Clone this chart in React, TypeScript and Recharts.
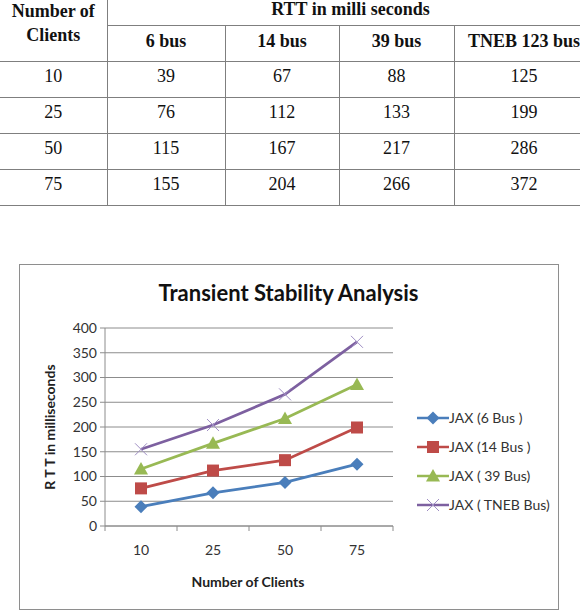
import React from 'react';
import { LineChart, Line, XAxis, YAxis, CartesianGrid, Legend } from 'recharts';

// Client counts (categories) and round-trip times in ms per bus system
const clients = ['10', '25', '50', '75'];
const bus6 = [39, 67, 88, 125];
const bus14 = [76, 112, 133, 199];
const bus39 = [115, 167, 217, 286];
const busTneb = [155, 204, 266, 372];

const tableHeaders = ['6 bus', '14 bus', '39 bus', 'TNEB 123 bus'];
const seriesNames = ['JAX (6 Bus )', 'JAX (14 Bus )', 'JAX ( 39 Bus)', 'JAX ( TNEB Bus)'];
const seriesKeys = ['b6', 'b14', 'b39', 'tneb'];
const seriesColors = ['#4A7EBB', '#BE4B48', '#98B954', '#7D60A0'];
const markerKinds = ['diamond', 'square', 'triangle', 'cross'];
const yTicks = [0, 50, 100, 150, 200, 250, 300, 350, 400];

const seriesValues = [bus6, bus14, bus39, busTneb];
// The RTT table lists the series row by row
const tableRows = seriesValues;

// Category i sits in the middle of band [i, i+1] of a numeric axis,
// so tick marks can go on the band edges like a classic category axis.
const chartData = clients.map((c, i) => ({
  pos: i + 0.5,
  client: c,
  b6: bus6[i],
  b14: bus14[i],
  b39: bus39[i],
  tneb: busTneb[i],
}));
const xTicks = [0, 0.5, 1, 1.5, 2, 2.5, 3, 3.5, 4];

const GRID = '#8c8c8c';
const CHART_FONT = 'Lato, "Open Sans", sans-serif';

function Marker({ kind, cx, cy, color }: { kind: string; cx: number; cy: number; color: string }) {
  if (kind === 'diamond') {
    const r = 6.5;
    return <polygon points={`${cx},${cy - r} ${cx + r},${cy} ${cx},${cy + r} ${cx - r},${cy}`} fill={color} />;
  }
  if (kind === 'square') {
    const r = 6;
    return <rect x={cx - r} y={cy - r} width={r * 2} height={r * 2} fill={color} />;
  }
  if (kind === 'triangle') {
    return <polygon points={`${cx},${cy - 7} ${cx + 7},${cy + 5.5} ${cx - 7},${cy + 5.5}`} fill={color} />;
  }
  const r = 6;
  return (
    <g stroke="#A08FC4" strokeWidth={1}>
      <line x1={cx - r} y1={cy - r} x2={cx + r} y2={cy + r} />
      <line x1={cx - r} y1={cy + r} x2={cx + r} y2={cy - r} />
    </g>
  );
}

function XTick(props: any) {
  const { x, y, payload } = props;
  const v = payload.value as number;
  if (Number.isInteger(v)) {
    return <line x1={x} y1={y} x2={x} y2={y + 5} stroke={GRID} />;
  }
  const label = clients[Math.floor(v)];
  return (
    <text x={x} y={y + 29} textAnchor="middle" fill="#333" fontSize={14} fontFamily={CHART_FONT}>
      {label}
    </text>
  );
}

function LegendContent(props: any) {
  const items = [...(props.payload || [])].sort(
    (a: any, b: any) => seriesKeys.indexOf(a.dataKey) - seriesKeys.indexOf(b.dataKey)
  );
  return (
    <div style={{ fontFamily: CHART_FONT, fontSize: 14, color: '#333' }}>
      {items.map((entry: any) => {
        const idx = seriesKeys.indexOf(entry.dataKey);
        return (
          <div key={entry.dataKey} style={{ display: 'flex', alignItems: 'center', height: 29 }}>
            <svg width={32} height={16} style={{ display: 'block' }}>
              <line x1={0} y1={8} x2={32} y2={8} stroke={entry.color} strokeWidth={2.5} />
              <Marker kind={markerKinds[idx]} cx={16} cy={8} color={entry.color} />
            </svg>
            <span style={{ whiteSpace: 'nowrap' }}>{entry.value}</span>
          </div>
        );
      })}
    </div>
  );
}

const cellBorder = '1px solid #7f7f7f';

function RttTable() {
  const cell: React.CSSProperties = {
    border: cellBorder,
    textAlign: 'center',
    padding: 0,
  };
  const first: React.CSSProperties = { ...cell, borderLeft: 'none' };
  return (
    <table
      style={{
        position: 'absolute',
        left: 0,
        top: -10,
        borderCollapse: 'collapse',
        tableLayout: 'fixed',
        width: 594,
        fontFamily: '"Liberation Serif", "Times New Roman", serif',
        fontSize: 18,
        color: '#111',
      }}
    >
      <colgroup>
        <col style={{ width: 107 }} />
        <col style={{ width: 118 }} />
        <col style={{ width: 114 }} />
        <col style={{ width: 115 }} />
        <col style={{ width: 140 }} />
      </colgroup>
      <tbody>
        <tr>
          <td
            rowSpan={2}
            style={{ ...first, fontWeight: 'bold', lineHeight: '24px', verticalAlign: 'top', paddingTop: 8 }}
          >
            Number of
            <br />
            Clients
          </td>
          <td
            colSpan={4}
            style={{ ...cell, height: 35, boxSizing: 'border-box', fontWeight: 'bold', verticalAlign: 'top', paddingTop: 8, lineHeight: '20px' }}
          >
            RTT in milli seconds
          </td>
        </tr>
        <tr>
          {tableHeaders.map((h) => (
            <td key={h} style={{ ...cell, height: 31, fontWeight: 'bold', paddingBottom: 4 }}>
              {h}
            </td>
          ))}
        </tr>
        {clients.map((c, i) => (
          <tr key={c}>
            <td style={{ ...first, height: 29, paddingBottom: 6 }}>{c}</td>
            {tableRows[i].map((v, j) => (
              <td key={j} style={{ ...cell, height: 29, paddingBottom: 6 }}>
                {v}
              </td>
            ))}
          </tr>
        ))}
      </tbody>
    </table>
  );
}

export default function App() {
  return (
    <div
      style={{
        position: 'fixed',
        left: 0,
        top: 0,
        width: 580,
        height: 613,
        overflow: 'hidden',
        background: '#fff',
      }}
    >
      <RttTable />

      {/* chart frame */}
      <div
        style={{
          position: 'absolute',
          left: 19,
          top: 264,
          width: 538,
          height: 344,
          border: '1px solid #8e8e8e',
          background: '#fff',
        }}
      />

      <div
        style={{
          position: 'absolute',
          left: 19,
          top: 264,
          width: 540,
          height: 346,
        }}
      >
        <LineChart
          width={540}
          height={346}
          data={chartData}
          margin={{ top: 64, right: 16, left: 26, bottom: 54 }}
        >
          <CartesianGrid vertical={false} stroke={GRID} horizontalValues={yTicks} />
          <XAxis
            type="number"
            dataKey="pos"
            domain={[0, 4]}
            ticks={xTicks}
            interval={0}
            tick={<XTick />}
            tickLine={false}
            tickSize={0}
            tickMargin={0}
            height={30}
            stroke={GRID}
            allowDecimals
          />
          <YAxis
            domain={[0, 400]}
            ticks={yTicks}
            interval={0}
            width={60}
            tickSize={5}
            tickMargin={3}
            stroke={GRID}
            tick={{ fill: '#333', fontSize: 14, fontFamily: CHART_FONT }}
          />
          <Legend
            layout="vertical"
            align="right"
            verticalAlign="middle"
            width={150}
            content={<LegendContent />}
            wrapperStyle={{ left: 398, top: 139 }}
          />
          {seriesKeys.map((k, i) => (
            <Line
              key={k}
              type="linear"
              dataKey={k}
              name={seriesNames[i]}
              stroke={seriesColors[i]}
              strokeWidth={2.75}
              isAnimationActive={false}
              activeDot={false}
              dot={(p: any) => (
                <Marker key={`${k}-${p.index}`} kind={markerKinds[i]} cx={p.cx} cy={p.cy} color={seriesColors[i]} />
              )}
            />
          ))}
        </LineChart>
      </div>

      <div
        style={{
          position: 'absolute',
          left: 19,
          width: 539,
          top: 278,
          textAlign: 'center',
          fontFamily: CHART_FONT,
          fontWeight: 'bold',
          fontSize: 22,
          lineHeight: '30px',
          color: '#111',
        }}
      >
        Transient Stability Analysis
      </div>

      <div
        style={{
          position: 'absolute',
          left: 49,
          top: 427,
          transform: 'translate(-50%, -50%) rotate(-90deg)',
          whiteSpace: 'nowrap',
          fontFamily: CHART_FONT,
          fontWeight: 'bold',
          fontSize: 14,
          color: '#222',
        }}
      >
        R T T in milliseconds
      </div>

      <div
        style={{
          position: 'absolute',
          left: 148,
          width: 200,
          top: 572,
          textAlign: 'center',
          fontFamily: CHART_FONT,
          fontWeight: 'bold',
          fontSize: 14,
          lineHeight: '20px',
          color: '#222',
        }}
      >
        Number of Clients
      </div>
    </div>
  );
}
